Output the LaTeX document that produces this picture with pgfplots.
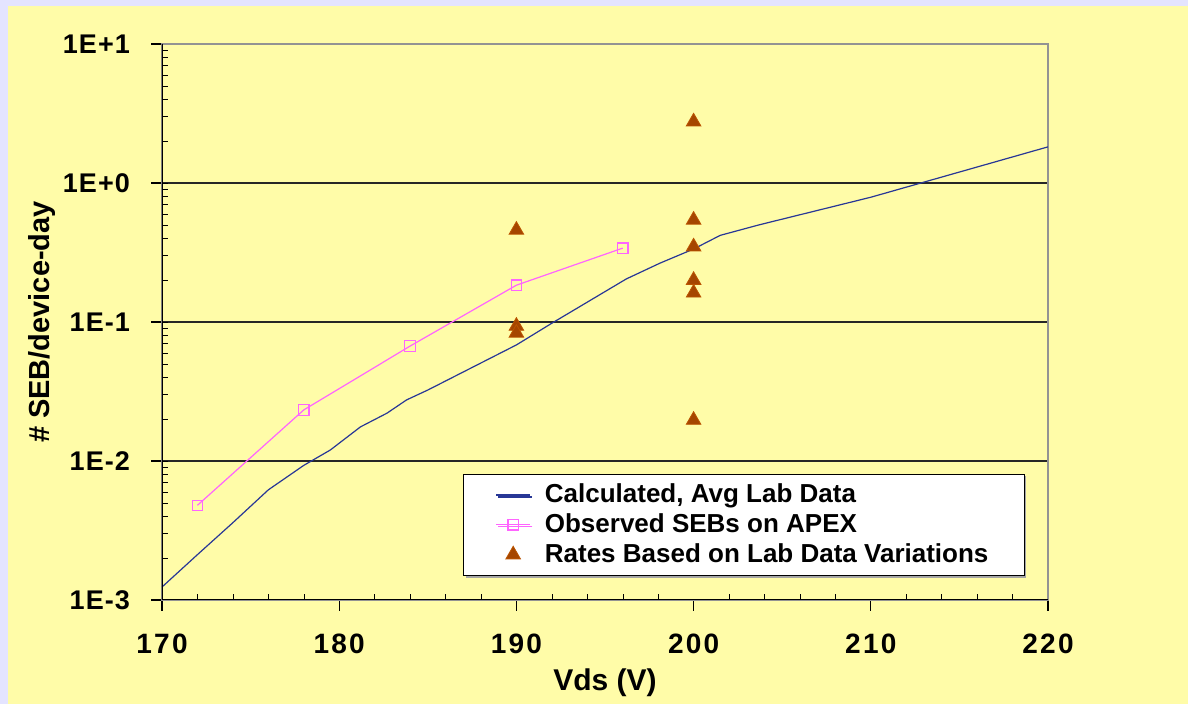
\documentclass[border=0pt]{standalone}
\usepackage{fontspec}
\setmainfont{Liberation Sans}
\usepackage{pgfplots}
\pgfplotsset{compat=1.18}
\usetikzlibrary{shadows}
\definecolor{bgyellow}{RGB}{255,252,168}
\definecolor{lav}{RGB}{228,228,255}
\definecolor{calcblue}{RGB}{40,55,150}
\definecolor{apexpink}{RGB}{255,100,255}
\definecolor{tribrown}{RGB}{165,70,0}

\begin{document}
\begin{tikzpicture}
\fill[lav] (0,0) rectangle (594pt,352pt);
\fill[bgyellow] (4pt,0) rectangle (594pt,349pt);
\begin{axis}[
    at={(81pt,52pt)}, anchor=south west,
    scale only axis, width=443pt, height=278pt,
    xmin=170, xmax=220,
    ymode=log, ymin=1e-3, ymax=10,
    xtick={170,180,...,220}, minor x tick num=4,
    ytick={1e-3,1e-2,1e-1,1,10},
    yticklabels={1E-3,1E-2,1E-1,1E+0,1E+1},
    xtick pos=left, ytick pos=left,
    tick align=outside,
    major tick length=5.5pt, minor tick length=3.2pt,
    minor x tick style={yshift=3.2pt, black},
    minor y tick style={xshift=3.2pt, black},
    major tick style={black, line width=0.6pt},
    ymajorgrids,
    grid style={black!85, line width=0.6pt},
    axis line style={draw=gray!85, line width=0.8pt},
    /pgf/number format/assume math mode=true,
    xticklabel style={font=\bfseries\fontsize{14}{16}\selectfont\addfontfeature{LetterSpace=8}, yshift=-8pt},
    yticklabel style={font=\bfseries\fontsize{13.5}{16}\selectfont\addfontfeature{LetterSpace=4}, xshift=-7pt},
    xlabel={Vds (V)},
    ylabel={\# SEB/device-day},
    x label style={at={([yshift=-41.5pt]axis description cs:0.5,0)}, anchor=center, font=\bfseries\fontsize{15}{18}\selectfont},
    y label style={at={([xshift=-60pt]axis description cs:0,0.5)}, anchor=center, font=\bfseries\fontsize{14.5}{18}\selectfont},
    legend cell align=left,
    legend style={at={(0.974,0.043)}, anchor=south east, fill=white, draw=black,
        line width=0.5pt, inner xsep=16pt, inner ysep=3pt,
        /tikz/column 2/.style={column sep=0pt},
        /tikz/column 1/.style={column sep=5pt},
        font=\bfseries\fontsize{13}{15}\selectfont,
        drop shadow={shadow xshift=1pt, shadow yshift=-1pt, fill=gray!70, opacity=1}},
]
\addplot[calcblue, line width=0.6pt] coordinates {
    (170,0.00124) (172,0.00212) (174,0.0036) (176,0.0062) (178,0.0093)
    (179.5,0.012) (181.2,0.0176) (182.7,0.0221) (183.8,0.0275) (185,0.0324)
    (190,0.0684) (192,0.098) (196.2,0.204) (198.1,0.265) (200,0.335)
    (201.5,0.42) (203.7,0.5) (210,0.79) (220,1.82)
};
\addlegendentry{Calculated, Avg Lab Data}
\addplot[apexpink, line width=0.6pt, mark=square, mark size=2.6pt, mark options={line width=0.6pt}] coordinates {
    (172,0.0048) (178,0.0233) (184,0.0671) (190,0.184) (196,0.34)
};
\addlegendentry{Observed SEBs on APEX}
\addplot[only marks, mark=triangle*, mark size=4.2pt, mark options={fill=tribrown, draw=tribrown!75!orange, line width=0.4pt}] coordinates {
    (190,0.459) (190,0.0935) (190,0.0834)
    (200,2.76) (200,0.542) (200,0.348) (200,0.2) (200,0.162) (200,0.0197)
};
\addlegendentry{Rates Based on Lab Data Variations}
\draw[black, line width=0.8pt] (rel axis cs:0,1) -- (rel axis cs:0,0) -- (rel axis cs:1,0);
\end{axis}
\pgfresetboundingbox
\useasboundingbox (0,0) rectangle (594pt,352pt);
\end{tikzpicture}
\end{document}
